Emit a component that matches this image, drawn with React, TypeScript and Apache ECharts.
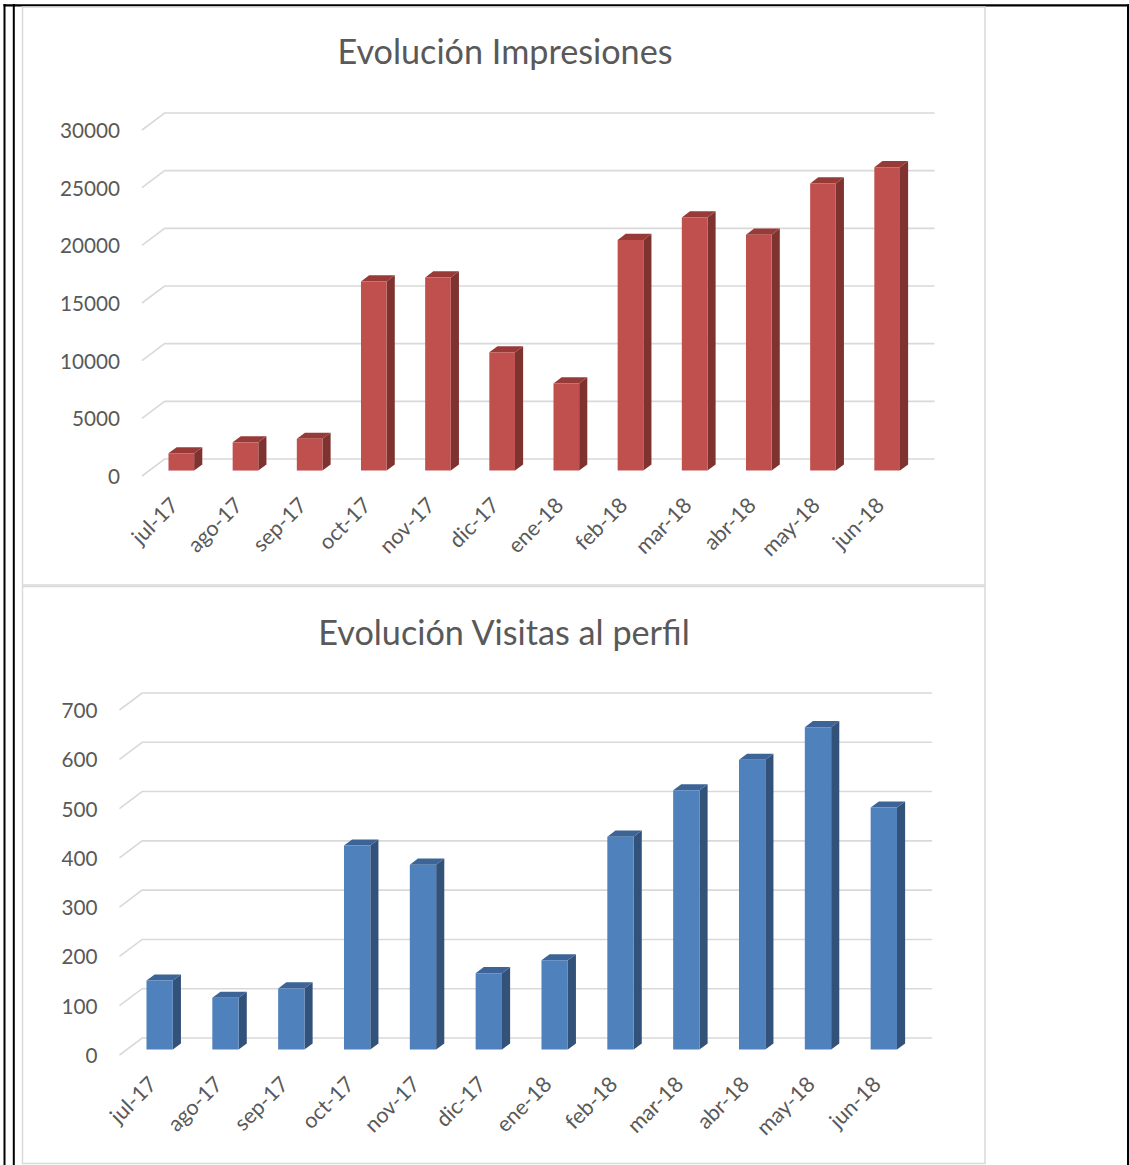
import React, { useEffect, useRef } from "react";
import * as echarts from "echarts";

const categories = ["jul-17", "ago-17", "sep-17", "oct-17", "nov-17", "dic-17", "ene-18", "feb-18", "mar-18", "abr-18", "may-18", "jun-18"];
const impresiones = [1500, 2450, 2750, 16400, 16750, 10250, 7550, 20000, 21950, 20450, 24900, 26300];
const visitas = [140, 105, 124, 414, 375, 155, 181, 432, 526, 588, 654, 491];
const impresionesTicks = [0, 5000, 10000, 15000, 20000, 25000, 30000];
const visitasTicks = [0, 100, 200, 300, 400, 500, 600, 700];
const titleImpresiones = "Evolución Impresiones";
const titleVisitas = "Evolución Visitas al perfil";

const DX = 22.6;
const DY = -17;
const F1 = 0.32;
const F2 = 0.68;
const TEXT = "#595959";
const GRID = "#d9d9d9";
const FONT = "Lato";

function gridRender(params: any, api: any) {
  const cs = params.coordSys;
  const y = api.coord([0, api.value(1)])[1];
  return {
    type: "polyline",
    shape: { points: [[cs.x, y], [cs.x + DX, y + DY], [cs.x + cs.width + DX, y + DY]] },
    style: { stroke: GRID, lineWidth: 1.6, fill: "none" },
  };
}

function barRender(front: string, side: string, topc: string) {
  return (params: any, api: any) => {
    const i = api.value(0);
    const v = api.value(1);
    const base = api.coord([i, 0]);
    const top = api.coord([i, v]);
    const band = api.size([1, 0])[0];
    const w = band * 0.4;
    const ox1 = F1 * DX, oy1 = F1 * DY, ox2 = F2 * DX, oy2 = F2 * DY;
    const L1 = base[0] - w / 2 + ox1, R1 = base[0] + w / 2 + ox1;
    const L2 = base[0] - w / 2 + ox2, R2 = base[0] + w / 2 + ox2;
    const t1 = top[1] + oy1, t2 = top[1] + oy2, b1 = base[1] + oy1, b2 = base[1] + oy2;
    return {
      type: "group",
      children: [
        { type: "polygon", shape: { points: [[R1, t1], [R2, t2], [R2, b2], [R1, b1]] }, style: { fill: side } },
        { type: "polygon", shape: { points: [[L1, t1], [R1, t1], [R2, t2], [L2, t2]] }, style: { fill: topc } },
        { type: "rect", shape: { x: L1, y: t1, width: R1 - L1, height: b1 - t1 }, style: { fill: front } },
      ],
    };
  };
}

export default function App() {
  const ref = useRef<HTMLDivElement>(null);
  useEffect(() => {
    if (!ref.current) return;
    const chart = echarts.init(ref.current, null, { renderer: "svg" });
    const yLabel = { color: TEXT, fontSize: 20.7, fontFamily: FONT, margin: 22, formatter: (v: number) => String(v) };
    const xLabel = { color: TEXT, fontSize: 21.5, fontFamily: FONT, rotate: 45, interval: 0, margin: 25 };
    chart.setOption({
      animation: false,
      backgroundColor: "#ffffff",
      grid: [
        { left: 142, top: 130, width: 770, height: 346 },
        { left: 119.5, top: 710, width: 790, height: 345 },
      ],
      xAxis: [
        { type: "category", gridIndex: 0, data: categories, axisLine: { show: false }, axisTick: { show: false }, axisLabel: xLabel },
        { type: "category", gridIndex: 1, data: categories, axisLine: { show: false }, axisTick: { show: false }, axisLabel: xLabel },
      ],
      yAxis: [
        { type: "value", gridIndex: 0, min: 0, max: 30000, interval: 5000, axisLine: { show: false }, axisTick: { show: false }, splitLine: { show: false }, axisLabel: yLabel },
        { type: "value", gridIndex: 1, min: 0, max: 700, interval: 100, axisLine: { show: false }, axisTick: { show: false }, splitLine: { show: false }, axisLabel: yLabel },
      ],
      series: [
        { type: "custom", xAxisIndex: 0, yAxisIndex: 0, data: impresionesTicks.map((v) => [0, v]), renderItem: gridRender, silent: true, z: 1 },
        { type: "custom", xAxisIndex: 1, yAxisIndex: 1, data: visitasTicks.map((v) => [0, v]), renderItem: gridRender, silent: true, z: 1 },
        { type: "custom", name: "Impresiones", xAxisIndex: 0, yAxisIndex: 0, data: impresiones.map((v, i) => [i, v]), renderItem: barRender("#C0504D", "#7F3331", "#973A38"), z: 2 },
        { type: "custom", name: "Visitas al perfil", xAxisIndex: 1, yAxisIndex: 1, data: visitas.map((v, i) => [i, v]), renderItem: barRender("#4F81BD", "#32527A", "#3C6496"), z: 2 },
      ],
      graphic: [
        { type: "rect", shape: { x: 3.5, y: 4, width: 2, height: 1161 }, style: { fill: "#000" } },
        { type: "rect", shape: { x: 12.8, y: 4, width: 2, height: 1161 }, style: { fill: "#000" } },
        { type: "rect", shape: { x: 3.5, y: 4.2, width: 1125.5, height: 2.3 }, style: { fill: "#000" } },
        { type: "rect", shape: { x: 1127, y: 4.2, width: 2, height: 1161 }, style: { fill: "#000" } },
        { type: "rect", shape: { x: 22.5, y: 7, width: 962.5, height: 578 }, style: { fill: "none", stroke: GRID, lineWidth: 1.5 } },
        { type: "rect", shape: { x: 22.5, y: 586.5, width: 962.5, height: 577 }, style: { fill: "none", stroke: GRID, lineWidth: 1.5 } },
        { type: "text", x: 505, y: 50, style: { text: titleImpresiones, fill: TEXT, fontSize: 34.2, fontFamily: FONT, textAlign: "center", textVerticalAlign: "middle" } },
        { type: "text", x: 504, y: 631, style: { text: titleVisitas, fill: TEXT, fontSize: 34.2, fontFamily: FONT, textAlign: "center", textVerticalAlign: "middle" } },
      ],
    });
    return () => chart.dispose();
  }, []);
  return <div ref={ref} style={{ position: "absolute", left: 0, top: 0, width: 1129, height: 1165 }} />;
}
